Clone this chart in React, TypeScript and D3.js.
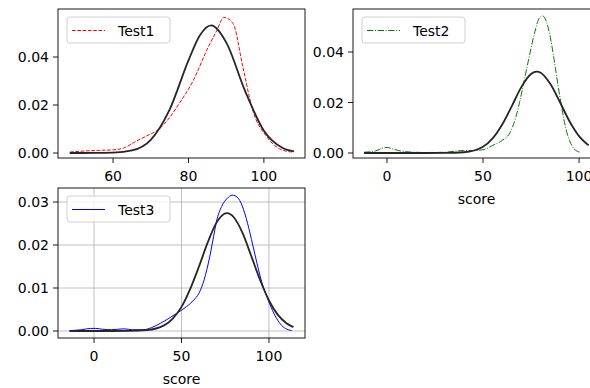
import React, { useEffect, useRef } from 'react';
import * as d3 from 'd3';

type Pt = [number, number];

// Test1: kde (red dashed) and fitted normal (black)
const test1Kde: Pt[] = [
  [48.6, 0.0004], [52, 0.0008], [56, 0.0011], [60, 0.0013], [63, 0.0022], [66, 0.0048],
  [69, 0.0072], [72, 0.0097], [75, 0.0148], [77.7, 0.021], [81.2, 0.030], [84.9, 0.043],
  [87.5, 0.051], [89.4, 0.0565], [91.8, 0.054], [94.4, 0.036], [97, 0.018], [100.8, 0.0067],
  [104.2, 0.0017], [107.4, 0.0004],
];
const test1Fit: Pt[] = [
  [48.5, 0.00001], [55, 0.00002], [60, 0.00013], [65, 0.00105], [70, 0.0055], [75, 0.0181],
  [80, 0.0386], [83, 0.0490], [86, 0.0532], [90, 0.0461], [95, 0.0259], [100, 0.0093],
  [105, 0.0021], [108, 0.0007],
];

// Test2: kde (green dash-dot) and fitted normal (black)
const test2Kde: Pt[] = [
  [-12, 0.0003], [-6, 0.0008], [-2, 0.002], [0, 0.0022], [3, 0.0016], [7, 0.0008], [12, 0.0004],
  [20, 0.0002], [30, 0.0003], [40, 0.001], [45, 0.001], [50, 0.0013], [55, 0.003], [60, 0.005],
  [64, 0.008], [67, 0.014], [69, 0.02], [71, 0.027], [74, 0.038], [77, 0.048], [79, 0.053],
  [81, 0.0543], [83, 0.052], [85, 0.046], [87, 0.037], [89, 0.027], [91, 0.018], [93, 0.01],
  [95, 0.005], [97, 0.002], [99, 0.0007], [100.5, 0.0003],
];
const test2Fit: Pt[] = [
  [-12, 0], [20, 0], [30, 0.00002], [40, 0.0003], [50, 0.0025], [55, 0.0058], [60, 0.0113],
  [65, 0.0186], [70, 0.0262], [75, 0.0313], [78, 0.0322], [80, 0.0318], [85, 0.0274],
  [90, 0.0202], [95, 0.0126], [100, 0.0067], [105, 0.003],
];

// Test3: kde (blue solid) and fitted normal (black)
const test3Kde: Pt[] = [
  [-14, 0.0001], [-7, 0.0003], [-2, 0.0006], [1, 0.0006], [5, 0.0004], [10, 0.0003], [17, 0.0005],
  [22, 0.0003], [28, 0.0003], [33, 0.0008], [38, 0.0018], [43, 0.003], [48, 0.0043], [53, 0.0057],
  [57, 0.0072], [60, 0.0088], [63, 0.012], [66, 0.017], [68, 0.0212], [70, 0.0255], [73, 0.029],
  [76, 0.0308], [79, 0.0316], [81, 0.0314], [84, 0.0298], [87, 0.0262], [90, 0.0213], [93, 0.016],
  [96, 0.0112], [99, 0.0078], [102, 0.0048], [105, 0.0025], [108, 0.001], [111, 0.0003], [113, 0.0001],
];
const test3Fit: Pt[] = [
  [-14, 0], [10, 0], [20, 0.00002], [30, 0.0002], [40, 0.0013], [45, 0.0029], [50, 0.0056],
  [55, 0.0098], [60, 0.015], [65, 0.0206], [70, 0.0252], [76, 0.0274], [80, 0.0264], [85, 0.0227],
  [90, 0.0173], [95, 0.0118], [100, 0.0071], [105, 0.0038], [110, 0.0018], [114, 0.0009],
];

const labels = ['Test1', 'Test2', 'Test3'];
const kdeColors = ['#ff0000', '#008000', '#0000ff'];
const xTickSets = [[60, 80, 100], [0, 50, 100], [0, 50, 100]];
const yTickSets = [[0, 0.02, 0.04], [0, 0.02, 0.04], [0, 0.01, 0.02, 0.03]];

const FONT = 'DejaVu Sans, sans-serif';

const App: React.FC = () => {
  const ref = useRef<SVGSVGElement | null>(null);

  useEffect(() => {
    const svg = d3.select(ref.current);
    svg.selectAll('*').remove();

    const panels = [
      { left: 58, top: 9, w: 247, h: 149, xd: [45.4, 110.9], yd: [-0.00208, 0.06],
        kde: test1Kde, fit: test1Fit, dash: '3.7,1.6', grid: false, xlabel: false },
      { left: 353, top: 9, w: 247, h: 149, xd: [-17.7, 110.9], yd: [-0.00198, 0.05703],
        kde: test2Kde, fit: test2Fit, dash: '6.4,1.6,1,1.6', grid: false, xlabel: true },
      { left: 58, top: 188, w: 247, h: 150, xd: [-20.6, 120.6], yd: [-0.00163, 0.03326],
        kde: test3Kde, fit: test3Fit, dash: null, grid: true, xlabel: true },
    ];

    panels.forEach((p, i) => {
      const x = d3.scaleLinear().domain(p.xd).range([0, p.w]);
      const y = d3.scaleLinear().domain(p.yd).range([p.h, 0]);
      const g = svg.append('g').attr('transform', `translate(${p.left},${p.top})`);

      const clipId = `clip-${i}`;
      g.append('clipPath').attr('id', clipId)
        .append('rect').attr('width', p.w).attr('height', p.h);

      if (p.grid) {
        g.append('g').selectAll('line.gx').data(xTickSets[i]).enter().append('line')
          .attr('x1', d => x(d)).attr('x2', d => x(d)).attr('y1', 0).attr('y2', p.h)
          .attr('stroke', '#b0b0b0').attr('stroke-width', 0.8);
        g.append('g').selectAll('line.gy').data(yTickSets[i]).enter().append('line')
          .attr('y1', d => y(d)).attr('y2', d => y(d)).attr('x1', 0).attr('x2', p.w)
          .attr('stroke', '#b0b0b0').attr('stroke-width', 0.8);
      }

      const line = d3.line<Pt>().x(d => x(d[0])).y(d => y(d[1])).curve(d3.curveMonotoneX);
      const plot = g.append('g').attr('clip-path', `url(#${clipId})`);

      const kdePath = plot.append('path').datum(p.kde).attr('d', line)
        .attr('fill', 'none').attr('stroke', kdeColors[i]).attr('stroke-width', 1);
      if (p.dash) kdePath.attr('stroke-dasharray', p.dash);

      plot.append('path').datum(p.fit).attr('d', line)
        .attr('fill', 'none').attr('stroke', '#262626').attr('stroke-width', 1.8);

      // frame
      g.append('rect').attr('width', p.w).attr('height', p.h)
        .attr('fill', 'none').attr('stroke', '#000').attr('stroke-width', 0.9);

      // x ticks
      const xt = g.append('g').selectAll('g').data(xTickSets[i]).enter().append('g')
        .attr('transform', d => `translate(${x(d)},${p.h})`);
      xt.append('line').attr('y2', 5).attr('stroke', '#000').attr('stroke-width', 0.9);
      xt.append('text').attr('y', 23).attr('text-anchor', 'middle')
        .style('font-family', FONT).style('font-size', '14px').attr('fill', '#000')
        .text(d => d3.format('d')(d));

      // y ticks
      const yt = g.append('g').selectAll('g').data(yTickSets[i]).enter().append('g')
        .attr('transform', d => `translate(0,${y(d)})`);
      yt.append('line').attr('x2', -5).attr('stroke', '#000').attr('stroke-width', 0.9);
      yt.append('text').attr('x', -9).attr('dy', '0.36em').attr('text-anchor', 'end')
        .style('font-family', FONT).style('font-size', '14px').attr('fill', '#000')
        .text(d => d3.format('.2f')(d));

      if (p.xlabel) {
        g.append('text').attr('x', p.w / 2).attr('y', p.h + 46).attr('text-anchor', 'middle')
          .style('font-family', FONT).style('font-size', '14px').attr('fill', '#000')
          .text('score');
      }

      // legend
      const lg = g.append('g').attr('transform', 'translate(9,8)');
      lg.append('rect').attr('width', 103).attr('height', 26).attr('rx', 3)
        .attr('fill', '#fff').attr('fill-opacity', 0.8)
        .attr('stroke', '#d0d0d0').attr('stroke-width', 1);
      const ll = lg.append('line').attr('x1', 5).attr('x2', 38).attr('y1', 13.5).attr('y2', 13.5)
        .attr('stroke', kdeColors[i]).attr('stroke-width', 1);
      if (p.dash) ll.attr('stroke-dasharray', p.dash);
      lg.append('text').attr('x', 51).attr('y', 19)
        .style('font-family', FONT).style('font-size', '14px').attr('fill', '#000')
        .text(labels[i]);
    });
  }, []);

  return (
    <svg ref={ref} width={590} height={388}
      style={{ position: 'absolute', left: 0, top: 0, background: '#fff' }} />
  );
};

export default App;
